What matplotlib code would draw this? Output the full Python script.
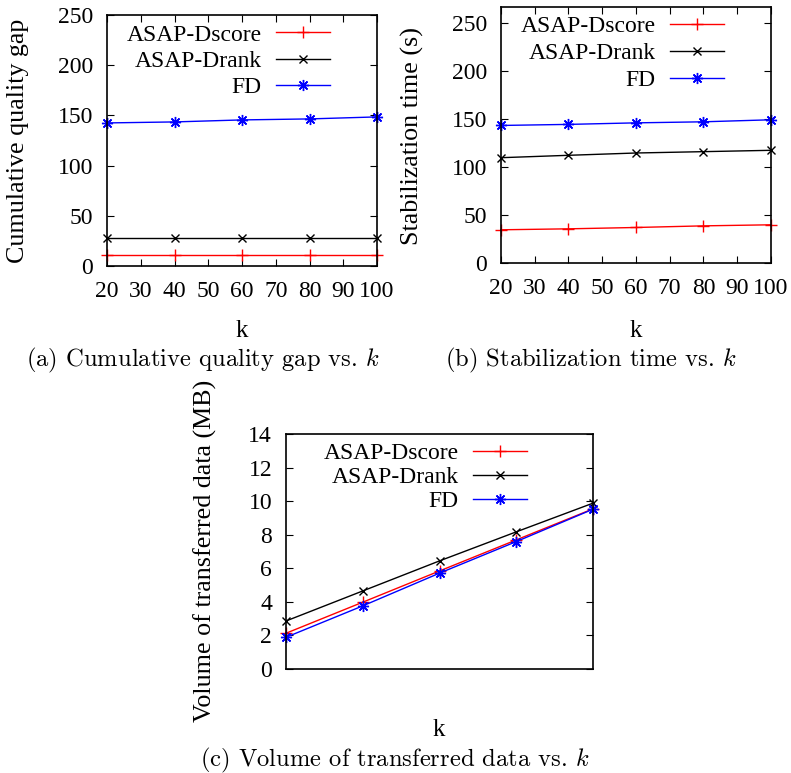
import numpy as np
import matplotlib
matplotlib.use("Agg")
import matplotlib.pyplot as plt

plt.rcParams['font.family'] = 'Liberation Serif'
plt.rcParams['mathtext.fontset'] = 'cm'

# data
k = [20, 40, 60, 80, 100]
names = ['ASAP-Dscore', 'ASAP-Drank', 'FD']

gap_dscore = [11, 11, 11, 11, 11]
gap_drank = [27.5, 27.5, 27.5, 27.5, 27.5]
gap_fd = [142.5, 143.5, 145.5, 146.5, 148.5]

stab_dscore = [34.6, 35.6, 37.0, 38.7, 39.8]
stab_drank = [109.7, 112.2, 114.6, 116.0, 117.4]
stab_fd = [143.3, 144.4, 146.0, 147.1, 149.2]

vol_dscore = [2.13, 3.98, 5.84, 7.69, 9.54]
vol_drank = [2.86, 4.65, 6.44, 8.17, 9.88]
vol_fd = [1.89, 3.76, 5.71, 7.59, 9.52]

colors = ['#ff0000', '#000000', '#0000ff']
markers = ['+', 'x', (8, 2, 0)]
msizes = [8, 6, 8]

W, H = 791, 773
fig = plt.figure(figsize=(W/100, H/100), dpi=100)

def px_axes(l, t, r, b):
    return fig.add_axes([l/W, 1-b/H, (r-l)/W, (b-t)/H])

def draw(ax, series, ylim, yticks, show_x, leg_anchor, lspace):
    for y, c, m, ms, n in zip(series, colors, markers, msizes, names):
        ax.plot(k, y, color=c, marker=m, markersize=ms, mew=1.0, lw=1.0, label=n, clip_on=False)
    ax.set_xlim(20, 100)
    ax.set_ylim(*ylim)
    ax.set_yticks(yticks)
    if show_x:
        ax.set_xticks(np.arange(20, 101, 10))
        ax.tick_params(axis='x', which='both', direction='in', top=True, length=5, labelsize=17, pad=11)
    else:
        ax.set_xticks([])
    ax.tick_params(axis='y', direction='in', right=True, length=5, labelsize=17, pad=10)
    for s in ax.spines.values():
        s.set_linewidth(1.2)
    ax.legend(loc='upper right', bbox_to_anchor=leg_anchor, frameon=False, markerfirst=False,
              numpoints=1, fontsize=17, handlelength=2.3, handletextpad=0.6,
              labelspacing=lspace, borderpad=0, borderaxespad=0)

ax1 = px_axes(107, 15, 377, 266)
draw(ax1, [gap_dscore, gap_drank, gap_fd], (0, 250), np.arange(0, 251, 50), True, (0.826, 0.964), 0.2)

ax2 = px_axes(501, 7, 771, 263)
draw(ax2, [stab_dscore, stab_drank, stab_fd], (0, 266.7), np.arange(0, 251, 50), True, (0.826, 0.965), 0.22)

ax3 = px_axes(286, 434, 593, 669)
draw(ax3, [vol_dscore, vol_drank, vol_fd], (0, 14), np.arange(0, 15, 2), False, (0.786, 0.962), 0.1)

# axis labels
fig.text(18/W, 1-141/H, 'Cumulative quality gap', rotation=90, ha='center', va='center', fontsize=18.7)
fig.text(412/W, 1-136/H, 'Stabilization time (s)', rotation=90, ha='center', va='center', fontsize=18.7)
fig.text(205/W, 1-551/H, 'Volume of transferred data (MB)', rotation=90, ha='center', va='center', fontsize=18.7)
fig.text(242/W, 1-331/H, 'k', ha='center', va='center', fontsize=18)
fig.text(636/W, 1-331/H, 'k', ha='center', va='center', fontsize=18)
fig.text(439/W, 1-730/H, 'k', ha='center', va='center', fontsize=18)

# captions
fig.text(203/W, 1-360/H, '(a) Cumulative quality gap vs. $k$', ha='center', va='center', fontsize=17.7, family='cmr10')
fig.text(591/W, 1-360/H, '(b) Stabilization time vs. $k$', ha='center', va='center', fontsize=17.7, family='cmr10')
fig.text(395/W, 1-760/H, '(c) Volume of transferred data vs. $k$', ha='center', va='center', fontsize=17.7, family='cmr10')

fig.savefig('out.png', dpi=100)
